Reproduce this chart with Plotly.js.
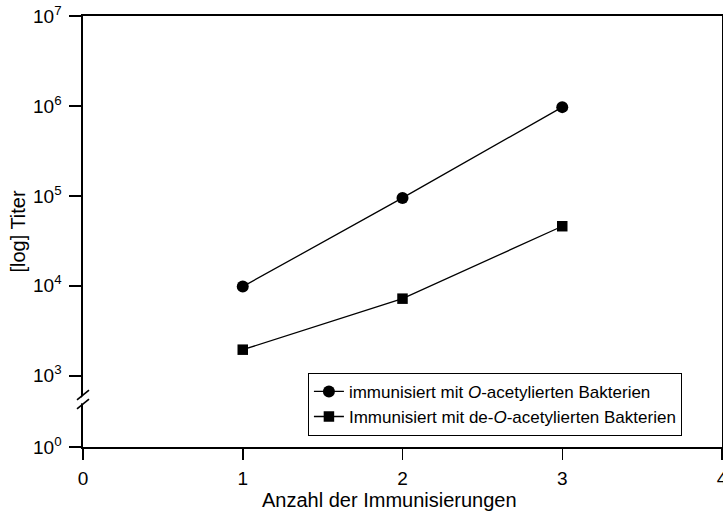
<!DOCTYPE html>
<html><head><meta charset="utf-8">
<script src="https://cdn.plot.ly/plotly-3.0.1.min.js"></script>
<style>html,body{margin:0;padding:0;background:#fff}#plot{width:723px;height:515px}</style>
</head><body><div id="plot"></div>
<script>
// Data
const immunizations = [1, 2, 3];
const titerOAcetyl = [9800, 95000, 970000];
const titerDeOAcetyl = [1950, 7200, 46000];
const seriesNames = ['immunisiert mit <i>O</i>-acetylierten Bakterien', 'Immunisiert mit de-<i>O</i>-acetylierten Bakterien'];
const xTickVals = [0, 1, 2, 3, 4];
const xTickText = ['0', '1', '2', '3', '4'];
const xTitle = 'Anzahl der Immunisierungen';
const yTitle = '[log] Titer';
// broken axis: the bottom (10^0) sits just below the break
const yBottomLog = 2.208;
const yBreakLog = 2.736;
const yTickVals = [Math.pow(10, yBottomLog), 1e3, 1e4, 1e5, 1e6, 1e7];
const yTickText = ['10<sup>0</sup>', '10<sup>3</sup>', '10<sup>4</sup>', '10<sup>5</sup>', '10<sup>6</sup>', '10<sup>7</sup>'];

const font = {family: 'Liberation Sans, Arial, sans-serif', color: '#000'};
const f = s => Object.assign({size: s}, font);

const traces = [
  {x: immunizations, y: titerOAcetyl, name: seriesNames[0], mode: 'lines+markers', type: 'scatter',
   line: {color: '#000', width: 1.3}, marker: {symbol: 'circle', size: 12, color: '#000'}},
  {x: immunizations, y: titerDeOAcetyl, name: seriesNames[1], mode: 'lines+markers', type: 'scatter',
   line: {color: '#000', width: 1.3}, marker: {symbol: 'square', size: 10.5, color: '#000'}}
];

// break marks on the y axis
const L = v => Math.pow(10, v);
const dx = 0.0094, dl = 0.055, off = 0.05;
const shapes = [
  {type: 'line', xref: 'paper', yref: 'y', x0: -0.004, x1: 0.004, y0: L(yBreakLog - off + 0.02), y1: L(yBreakLog + off - 0.02), line: {color: '#fff', width: 5}},
  {type: 'line', xref: 'paper', yref: 'y', x0: -dx, x1: dx, y0: L(yBreakLog + off - dl), y1: L(yBreakLog + off + dl), line: {color: '#000', width: 1.6}},
  {type: 'line', xref: 'paper', yref: 'y', x0: -dx, x1: dx, y0: L(yBreakLog - off - dl), y1: L(yBreakLog - off + dl), line: {color: '#000', width: 1.6}}
];

const layout = {
  width: 723, height: 515,
  margin: {l: 83, r: 1, t: 16, b: 68},
  paper_bgcolor: '#fff', plot_bgcolor: '#fff',
  font: f(18),
  showlegend: true,
  legend: {x: 0.352, y: 0.172, xanchor: 'left', yanchor: 'top', bgcolor: '#fff',
           bordercolor: '#000', borderwidth: 1, font: f(17), tracegroupgap: 0},
  xaxis: {range: [0, 4], tickvals: xTickVals, ticktext: xTickText, ticks: 'outside', ticklen: 11,
          tickwidth: 1.5, tickcolor: '#000', showline: true, linecolor: '#000', linewidth: 1.6,
          mirror: true, showgrid: false, zeroline: false, tickfont: f(19), ticklabeloverflow: 'allow',
          ticklabelstandoff: 3},
  yaxis: {type: 'log', range: [yBottomLog, 7], tickvals: yTickVals, ticktext: yTickText, ticks: 'outside',
          ticklen: 12, tickwidth: 1.5, tickcolor: '#000', showline: true, linecolor: '#000', linewidth: 1.6,
          mirror: true, showgrid: false, zeroline: false, tickfont: f(19), ticklabelstandoff: 4,
          title: {text: yTitle, font: f(20), standoff: 2}},
  annotations: [
    {text: xTitle, xref: 'paper', yref: 'paper', x: 0.48, y: -0.122, xanchor: 'center', yanchor: 'middle',
     showarrow: false, font: f(20)}
  ],
  shapes: shapes
};

Plotly.newPlot('plot', traces, layout, {staticPlot: true});
</script></body></html>
